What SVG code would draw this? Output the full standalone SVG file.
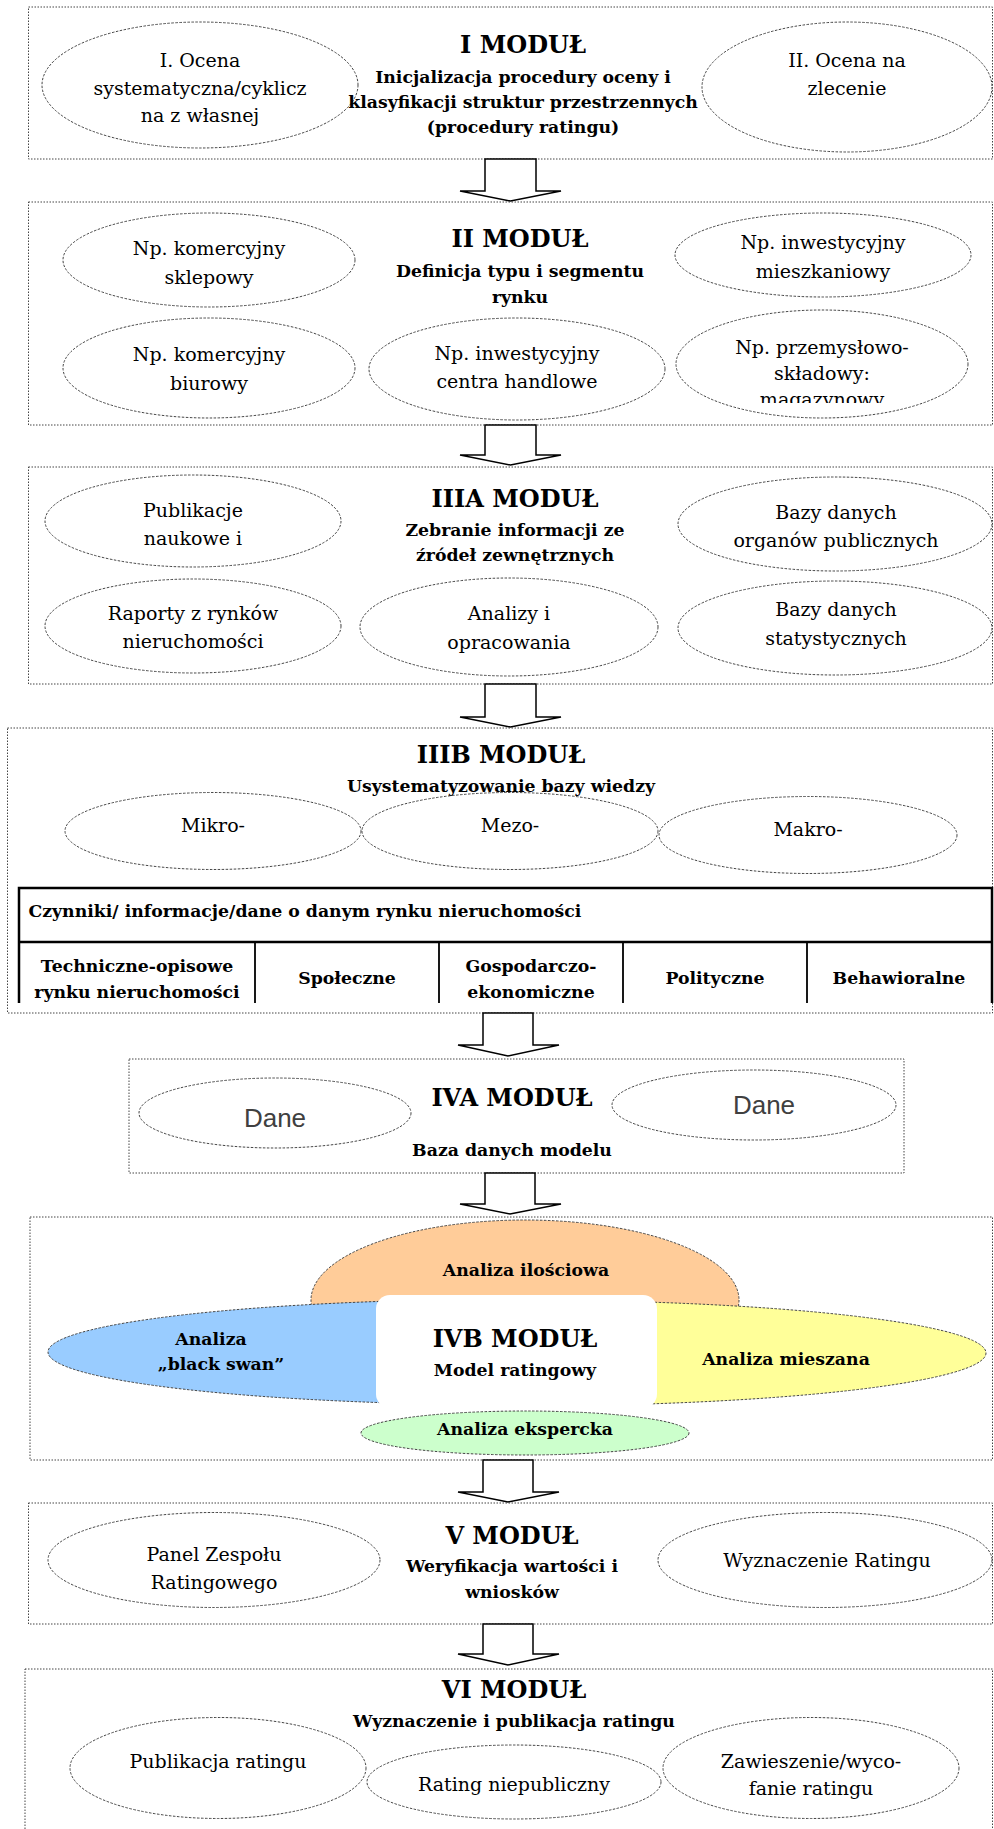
<svg xmlns="http://www.w3.org/2000/svg" width="994" height="1829" viewBox="0 0 994 1829">
<style>
.box{fill:none;stroke:#444;stroke-width:1;stroke-dasharray:1.5 1.5}
.ell{fill:none;stroke:#444;stroke-width:1;stroke-dasharray:2.5 1.5}
.fil{stroke:#444;stroke-width:1;stroke-dasharray:2.5 1.5}
.t{font-family:"DejaVu Serif","Liberation Serif",serif;font-size:19px;fill:#000;text-anchor:middle}
.b{font-weight:bold;font-size:17.3px}
.h{font-weight:bold;font-size:24px}
.tb{stroke:#000;stroke-width:2.5;fill:none}
.tc{stroke:#000;stroke-width:1.8;fill:none}
.dane{font-family:"Liberation Sans",Arial,sans-serif;font-size:26px;fill:#404040;text-anchor:middle}
.arrow{fill:#fff;stroke:#000;stroke-width:1.5;stroke-linejoin:miter}
</style>
<defs>
<clipPath id="clipMag"><rect x="600" y="300" width="400" height="103"/></clipPath>
<clipPath id="clipTab"><rect x="0" y="880" width="994" height="123"/></clipPath>
<clipPath id="clipL"><rect x="0" y="1280" width="500" height="140"/></clipPath>
<clipPath id="clipR"><rect x="500" y="1280" width="494" height="140"/></clipPath>
</defs>
<rect width="994" height="1829" fill="#fff"/>

<g id="modul-I">
<rect class="box" x="28.5" y="7" width="964" height="152"/>
<ellipse class="ell" cx="200" cy="85" rx="158" ry="63"/>
<text class="t" x="200" y="67">I. Ocena</text>
<text class="t" x="200" y="95">systematyczna/cyklicz</text>
<text class="t" x="200" y="122">na z własnej</text>
<text class="t h" x="523" y="53">I MODUŁ</text>
<text class="t b" x="523" y="83">Inicjalizacja procedury oceny i</text>
<text class="t b" x="523" y="107.5">klasyfikacji struktur przestrzennych</text>
<text class="t b" x="523" y="133">(procedury ratingu)</text>
<ellipse class="ell" cx="847" cy="87" rx="145" ry="65"/>
<text class="t" x="847" y="67">II. Ocena na</text>
<text class="t" x="847" y="95">zlecenie</text>
</g>

<g id="modul-II">
<rect class="box" x="28.5" y="202" width="964" height="223"/>
<text class="t h" x="520" y="247">II MODUŁ</text>
<text class="t b" x="520" y="277">Definicja typu i segmentu</text>
<text class="t b" x="520" y="303">rynku</text>
<ellipse class="ell" cx="209" cy="260" rx="146" ry="47"/>
<text class="t" x="209" y="255">Np. komercyjny</text>
<text class="t" x="209" y="284">sklepowy</text>
<ellipse class="ell" cx="823" cy="255" rx="148" ry="42"/>
<text class="t" x="823" y="249">Np. inwestycyjny</text>
<text class="t" x="823" y="278">mieszkaniowy</text>
<ellipse class="ell" cx="209" cy="368" rx="146" ry="50"/>
<text class="t" x="209" y="361">Np. komercyjny</text>
<text class="t" x="209" y="390">biurowy</text>
<ellipse class="ell" cx="517" cy="369" rx="148" ry="51"/>
<text class="t" x="517" y="360">Np. inwestycyjny</text>
<text class="t" x="517" y="388">centra handlowe</text>
<ellipse class="ell" cx="822" cy="364" rx="146" ry="54"/>
<text class="t" x="822" y="354">Np. przemysłowo-</text>
<text class="t" x="822" y="380">składowy:</text>
<text class="t" x="822" y="406" clip-path="url(#clipMag)">magazynowy</text>
</g>

<g id="modul-IIIA">
<rect class="box" x="28.5" y="467" width="964" height="217"/>
<text class="t h" x="515" y="507">IIIA MODUŁ</text>
<text class="t b" x="515" y="536">Zebranie informacji ze</text>
<text class="t b" x="515" y="561">źródeł zewnętrznych</text>
<ellipse class="ell" cx="193" cy="521" rx="148" ry="46"/>
<text class="t" x="193" y="517">Publikacje</text>
<text class="t" x="193" y="545">naukowe i</text>
<ellipse class="ell" cx="835" cy="524" rx="157" ry="47"/>
<text class="t" x="836" y="519">Bazy danych</text>
<text class="t" x="836" y="547">organów publicznych</text>
<ellipse class="ell" cx="193" cy="626" rx="148" ry="47"/>
<text class="t" x="193" y="620">Raporty z rynków</text>
<text class="t" x="193" y="648">nieruchomości</text>
<ellipse class="ell" cx="509" cy="627" rx="149" ry="49"/>
<text class="t" x="509" y="620">Analizy i</text>
<text class="t" x="509" y="649">opracowania</text>
<ellipse class="ell" cx="835" cy="628" rx="157" ry="47"/>
<text class="t" x="836" y="616">Bazy danych</text>
<text class="t" x="836" y="645">statystycznych</text>
</g>

<g id="modul-IIIB">
<rect class="box" x="7.5" y="728" width="985" height="285"/>
<text class="t h" x="501" y="763">IIIB MODUŁ</text>
<text class="t b" x="501" y="792">Usystematyzowanie bazy wiedzy</text>
<ellipse class="ell" cx="213" cy="831" rx="148" ry="38.5"/>
<text class="t" x="213" y="832">Mikro-</text>
<ellipse class="ell" cx="510" cy="831" rx="148" ry="38.5"/>
<text class="t" x="510" y="832">Mezo-</text>
<ellipse class="ell" cx="808" cy="835" rx="149" ry="38.5"/>
<text class="t" x="808" y="836">Makro-</text>
<g id="tabela">
<path class="tb" d="M19 1003V888H992V1003M19 942H992"/>
<path class="tc" d="M255 942V1003M439 942V1003M623 942V1003M807 942V1003"/>
<text class="t b" x="28.5" y="917" style="text-anchor:start">Czynniki/ informacje/dane o danym rynku nieruchomości</text>
<g clip-path="url(#clipTab)">
<text class="t b" x="137" y="972">Techniczne-opisowe</text>
<text class="t b" x="137" y="998">rynku nieruchomości</text>
<text class="t b" x="347" y="984">Społeczne</text>
<text class="t b" x="531" y="972">Gospodarczo-</text>
<text class="t b" x="531" y="998">ekonomiczne</text>
<text class="t b" x="715" y="984">Polityczne</text>
<text class="t b" x="899" y="984">Behawioralne</text>
</g>
</g>
</g>

<g id="modul-IVA">
<rect class="box" x="129" y="1059" width="775" height="114"/>
<ellipse class="ell" cx="275" cy="1113" rx="136" ry="35"/>
<text class="dane" x="275" y="1127">Dane</text>
<text class="t h" x="512" y="1106">IVA MODUŁ</text>
<ellipse class="ell" cx="754" cy="1105" rx="142" ry="35"/>
<text class="dane" x="764" y="1114">Dane</text>
<text class="t b" x="512" y="1156">Baza danych modelu</text>
</g>

<g id="modul-IVB">
<rect class="box" x="30" y="1217" width="962.5" height="243"/>
<ellipse class="fil" cx="525" cy="1300" rx="214" ry="80" fill="#FFCC99"/>
<text class="t b" x="526" y="1276">Analiza ilościowa</text>
<ellipse class="fil" cx="520" cy="1352" rx="472" ry="53" fill="#99CCFF" clip-path="url(#clipL)"/>
<ellipse class="fil" cx="520" cy="1353" rx="466" ry="53" fill="#FFFF99" clip-path="url(#clipR)"/>
<text class="t b" x="211" y="1345">Analiza</text>
<text class="t b" x="221" y="1370">„black swan”</text>
<text class="t b" x="786" y="1365">Analiza mieszana</text>
<rect x="376" y="1295" width="281" height="113" rx="14" fill="#fff"/>
<text class="t h" x="515" y="1347">IVB MODUŁ</text>
<text class="t b" x="515" y="1376">Model ratingowy</text>
<ellipse class="fil" cx="525" cy="1433" rx="164" ry="22" fill="#CCFFCC"/>
<text class="t b" x="525" y="1435">Analiza ekspercka</text>
</g>

<g id="modul-V">
<rect class="box" x="28.5" y="1503" width="964" height="121"/>
<ellipse class="ell" cx="214" cy="1560" rx="166" ry="47.5"/>
<text class="t" x="214" y="1561">Panel Zespołu</text>
<text class="t" x="214" y="1589">Ratingowego</text>
<text class="t h" x="512" y="1544">V MODUŁ</text>
<text class="t b" x="512" y="1572">Weryfikacja wartości i</text>
<text class="t b" x="512" y="1598">wniosków</text>
<ellipse class="ell" cx="825" cy="1560" rx="167" ry="47.5"/>
<text class="t" x="827" y="1567">Wyznaczenie Ratingu</text>
</g>

<g id="modul-VI">
<rect class="box" x="25" y="1669" width="967.5" height="200"/>
<text class="t h" x="514" y="1698">VI MODUŁ</text>
<text class="t b" x="514" y="1727">Wyznaczenie i publikacja ratingu</text>
<ellipse class="ell" cx="218" cy="1768" rx="148" ry="50.5"/>
<text class="t" x="218" y="1768">Publikacja ratingu</text>
<ellipse class="ell" cx="514" cy="1782" rx="147" ry="37"/>
<text class="t" x="514" y="1791">Rating niepubliczny</text>
<ellipse class="ell" cx="811" cy="1768" rx="148" ry="50.5"/>
<text class="t" x="811" y="1768">Zawieszenie/wyco-</text>
<text class="t" x="811" y="1795">fanie ratingu</text>
</g>

<g id="connectors">
<polygon class="arrow" points="485,159 536,159 536,191 561,191 510.5,201 460,191 485,191"/>
<polygon class="arrow" points="485,425 536,425 536,455 561,455 510.5,465 460,455 485,455"/>
<polygon class="arrow" points="485,684 536,684 536,717 561,717 510.5,727 460,717 485,717"/>
<polygon class="arrow" points="483,1013 533,1013 533,1045 559,1045 508,1056 458,1045 483,1045"/>
<polygon class="arrow" points="485,1173 535,1173 535,1204 561,1204 510,1214 460,1204 485,1204"/>
<polygon class="arrow" points="483,1460 533,1460 533,1492 559,1492 508,1502 458,1492 483,1492"/>
<polygon class="arrow" points="483,1624 533,1624 533,1654 559,1654 508,1665 458,1654 483,1654"/>
</g>
</svg>
